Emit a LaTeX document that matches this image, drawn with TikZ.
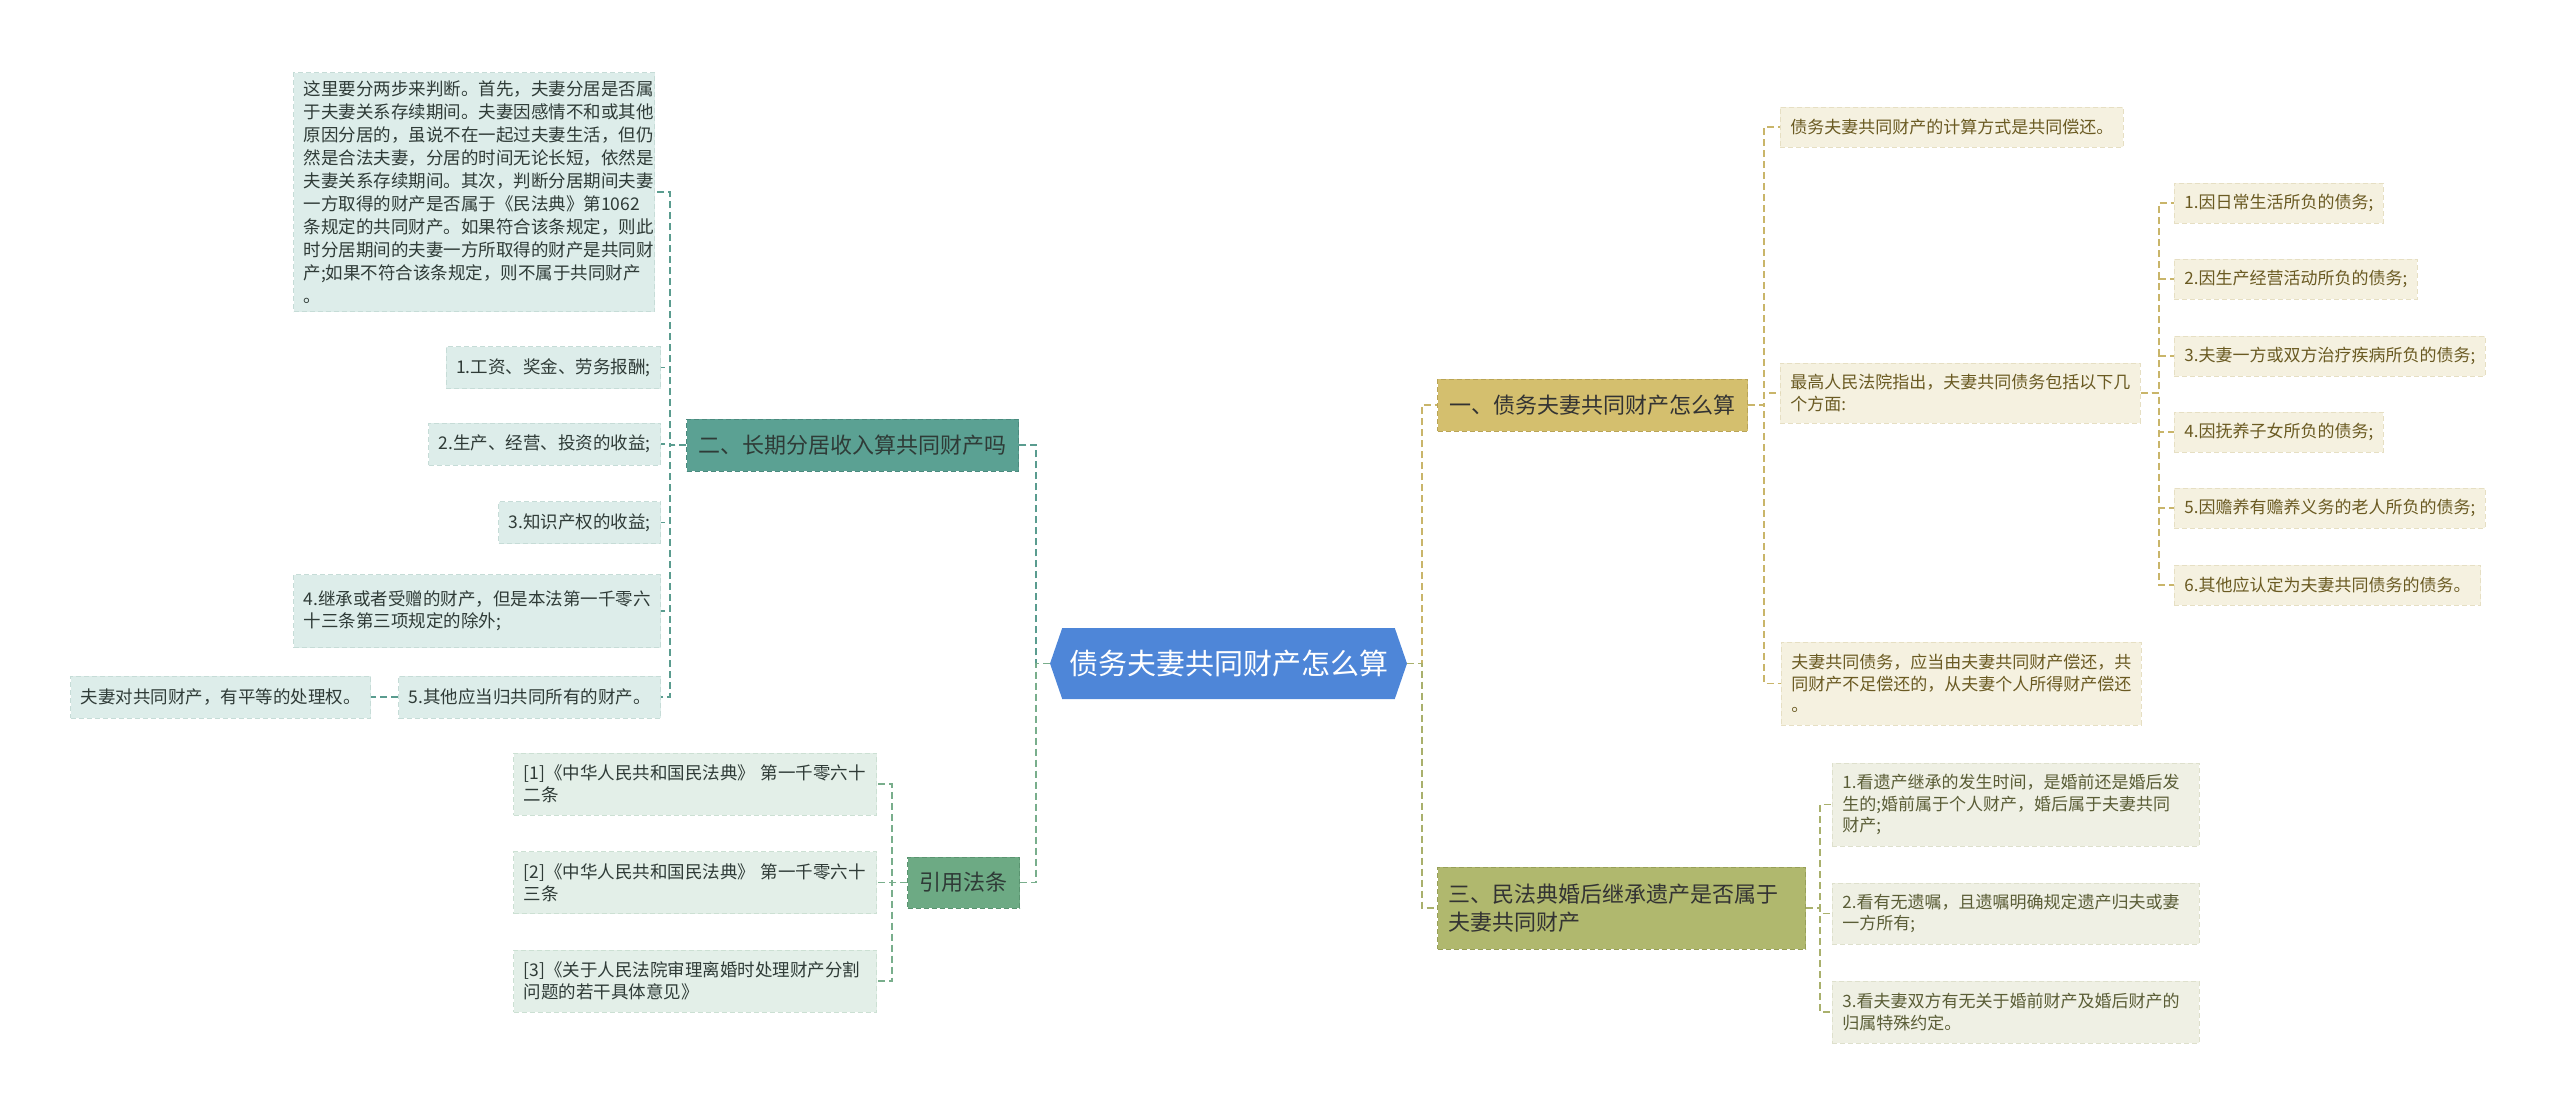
\documentclass[tikz,border=0pt]{standalone}
\usepackage{fontspec}
\setmainfont{Noto Sans CJK SC}
\usetikzlibrary{shapes.symbols}
\definecolor{rootblue}{HTML}{4E86D8}
\definecolor{tealmain}{HTML}{5BA193}
\definecolor{tealmainb}{HTML}{4A8A7E}
\definecolor{tealleaf}{HTML}{DDEDEA}
\definecolor{tealleafb}{HTML}{C6DCD7}
\definecolor{tealline}{HTML}{5A9C8F}
\definecolor{greenmain}{HTML}{6DAA84}
\definecolor{greenmainb}{HTML}{5A9470}
\definecolor{greenleaf}{HTML}{E3EFE8}
\definecolor{greenleafb}{HTML}{CCE0D3}
\definecolor{greenline}{HTML}{79AE8C}
\definecolor{goldmain}{HTML}{D4BF6E}
\definecolor{goldmainb}{HTML}{B9A456}
\definecolor{goldleaf}{HTML}{F5F1E0}
\definecolor{goldleafb}{HTML}{E6DFC3}
\definecolor{goldline}{HTML}{C9B56A}
\definecolor{goldtext}{HTML}{6A5A22}
\definecolor{olivemain}{HTML}{B0B86E}
\definecolor{olivemainb}{HTML}{979F58}
\definecolor{oliveleaf}{HTML}{EFF0E4}
\definecolor{oliveleafb}{HTML}{DEE0CC}
\definecolor{oliveline}{HTML}{A9B06C}
\definecolor{olivetext}{HTML}{5A5D36}
\definecolor{darktext}{HTML}{2F3B37}

\begin{document}
\begin{tikzpicture}[x=1pt,y=-1pt,
    root/.style={shape=signal, signal to=west and east, signal pointer angle=142,
      fill=rootblue, text=white, inner xsep=4pt, minimum width=357pt, minimum height=71pt,
      font=\fontsize{29}{34}\selectfont},
    main/.style={rectangle, line width=1pt, dash pattern=on 5pt off 3pt, inner xsep=12pt,
      minimum height=52pt, align=left, text=darktext, font=\fontsize{22}{28}\selectfont},
    mainT/.style={main, fill=tealmain, draw=tealmainb},
    mainG/.style={main, fill=greenmain, draw=greenmainb, minimum height=51pt},
    mainY/.style={main, fill=goldmain, draw=goldmainb, text=black!80},
    mainO/.style={main, fill=olivemain, draw=olivemainb, text=black!80},
    leaf/.style={rectangle, line width=0.8pt, dash pattern=on 5pt off 3pt, inner xsep=10pt,
      align=left, minimum height=42pt, font=\fontsize{17.5}{22}\selectfont},
    leafT/.style={leaf, fill=tealleaf, draw=tealleafb, text=darktext},
    leafG/.style={leaf, fill=greenleaf, draw=greenleafb, text=darktext},
    leafY/.style={leaf, fill=goldleaf, draw=goldleafb, text=goldtext, minimum height=40pt,
      font=\fontsize{17}{21.5}\selectfont},
    leafO/.style={leaf, fill=oliveleaf, draw=oliveleafb, text=olivetext,
      font=\fontsize{17}{21.5}\selectfont},
    link/.style={line width=1.6pt, dash pattern=on 7pt off 4pt},
    lnT/.style={link, draw=tealline},
    lnG/.style={link, draw=greenline},
    lnY/.style={link, draw=goldline},
    lnO/.style={link, draw=oliveline}]
    \useasboundingbox (0,0) rectangle (2560,1117);

    \node[root] (root) at (1228.5,663.5) {债务夫妻共同财产怎么算};

    \node[mainT, anchor=west] (sep) at (686,445) {二、长期分居收入算共同财产吗};
    \node[leafT, anchor=east, font=\fontsize{17.5}{23}\selectfont, text width=341pt, minimum height=239pt] (t0) at (655,192) {这里要分两步来判断。首先，夫妻分居是否属\\于夫妻关系存续期间。夫妻因感情不和或其他\\原因分居的，虽说不在一起过夫妻生活，但仍\\然是合法夫妻，分居的时间无论长短，依然是\\夫妻关系存续期间。其次，判断分居期间夫妻\\一方取得的财产是否属于《民法典》第1062\\条规定的共同财产。如果符合该条规定，则此\\时分居期间的夫妻一方所取得的财产是共同财\\产;如果不符合该条规定，则不属于共同财产\\。};
    \node[leafT, anchor=east] (t1) at (661,367.5) {1.工资、奖金、劳务报酬;};
    \node[leafT, anchor=east] (t2) at (661,444) {2.生产、经营、投资的收益;};
    \node[leafT, anchor=east] (t3) at (661,522.5) {3.知识产权的收益;};
    \node[leafT, anchor=east, minimum height=73pt] (t4) at (661,611) {4.继承或者受赠的财产，但是本法第一千零六\\十三条第三项规定的除外;};
    \node[leafT, anchor=east] (t5) at (661,697) {5.其他应当归共同所有的财产。};
    \node[leafT, anchor=east] (t6) at (371,697) {夫妻对共同财产，有平等的处理权。};

    \node[mainG, anchor=east] (cite) at (1020,882.5) {引用法条};
    \node[leafG, anchor=east, text width=343pt, minimum height=62pt] (r1) at (877,784) {[1]《中华人民共和国民法典》 第一千零六十\\二条};
    \node[leafG, anchor=east, text width=343pt, minimum height=62pt] (r2) at (877,882.5) {[2]《中华人民共和国民法典》 第一千零六十\\三条};
    \node[leafG, anchor=east, text width=343pt, minimum height=62pt] (r3) at (877,981) {[3]《关于人民法院审理离婚时处理财产分割\\问题的若干具体意见》};

    \node[mainY, anchor=west] (debt) at (1437,405) {一、债务夫妻共同财产怎么算};
    \node[leafY, anchor=west] (y1) at (1780,127) {债务夫妻共同财产的计算方式是共同偿还。};
    \node[leafY, anchor=west, minimum height=60pt] (y2) at (1780,393) {最高人民法院指出，夫妻共同债务包括以下几\\个方面:};
    \node[leafY, anchor=west, minimum height=83pt] (y3) at (1781,683.5) {夫妻共同债务，应当由夫妻共同财产偿还，共\\同财产不足偿还的，从夫妻个人所得财产偿还\\。};
    \node[leafY, anchor=west] (k1) at (2174,203) {1.因日常生活所负的债务;};
    \node[leafY, anchor=west] (k2) at (2174,279) {2.因生产经营活动所负的债务;};
    \node[leafY, anchor=west] (k3) at (2174,356) {3.夫妻一方或双方治疗疾病所负的债务;};
    \node[leafY, anchor=west] (k4) at (2174,432) {4.因抚养子女所负的债务;};
    \node[leafY, anchor=west] (k5) at (2174,508) {5.因赡养有赡养义务的老人所负的债务;};
    \node[leafY, anchor=west] (k6) at (2174,585) {6.其他应认定为夫妻共同债务的债务。};

    \node[mainO, anchor=west, text width=346pt, inner xsep=11pt, minimum height=82pt] (inh) at (1437,908) {三、民法典婚后继承遗产是否属于\\夫妻共同财产};
    \node[leafO, anchor=west, text width=347pt, minimum height=83pt] (d1) at (1832,804.5) {1.看遗产继承的发生时间，是婚前还是婚后发\\生的;婚前属于个人财产，婚后属于夫妻共同\\财产;};
    \node[leafO, anchor=west, text width=347pt, minimum height=61pt] (d2) at (1832,913.5) {2.看有无遗嘱，且遗嘱明确规定遗产归夫或妻\\一方所有;};
    \node[leafO, anchor=west, text width=347pt, minimum height=62pt] (d3) at (1832,1012) {3.看夫妻双方有无关于婚前财产及婚后财产的\\归属特殊约定。};

    \coordinate (busA) at (670,0);
    \coordinate (busB) at (892,0);
    \coordinate (busC) at (1764,0);
    \coordinate (busD) at (2159,0);
    \coordinate (busE) at (1820,0);
    \coordinate (trunkL) at (1036,0);
    \coordinate (trunkR) at (1422,0);

    \draw[lnT] (root.west) -- (root.west -| trunkL) |- (sep.east);
    \draw[lnG] (root.west) -- (root.west -| trunkL) |- (cite.east);
    \draw[lnY] (root.east) -- (root.east -| trunkR) |- (debt.west);
    \draw[lnO] (root.east) -- (root.east -| trunkR) |- (inh.west);

    \foreach \kid in {t0,t1,t2,t3,t4,t5}
      \draw[lnT] (sep.west) -- (sep.west -| busA) |- (\kid.east);
    \draw[lnT] (t5.west) -- (t6.east);
    \foreach \kid in {r1,r2,r3}
      \draw[lnG] (cite.west) -- (cite.west -| busB) |- (\kid.east);
    \foreach \kid in {y1,y2,y3}
      \draw[lnY] (debt.east) -- (debt.east -| busC) |- (\kid.west);
    \foreach \kid in {k1,k2,k3,k4,k5,k6}
      \draw[lnY] (y2.east) -- (y2.east -| busD) |- (\kid.west);
    \foreach \kid in {d1,d2,d3}
      \draw[lnO] (inh.east) -- (inh.east -| busE) |- (\kid.west);
\end{tikzpicture}
\end{document}
